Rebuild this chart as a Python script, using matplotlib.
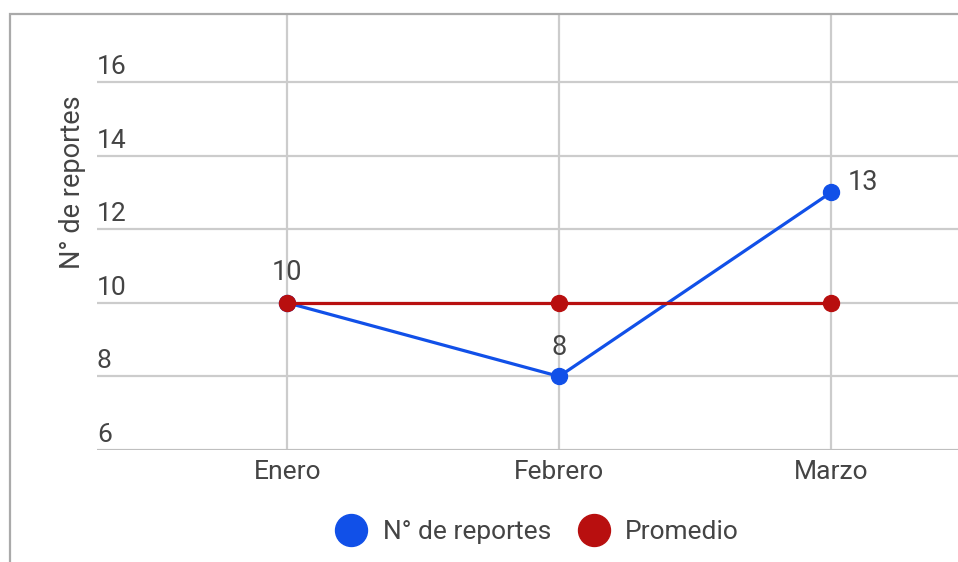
import matplotlib.pyplot as plt
from matplotlib.lines import Line2D
from matplotlib.patches import Rectangle

plt.rcParams["font.family"] = ["Roboto", "DejaVu Sans"]

# data
meses = ["Enero", "Febrero", "Marzo"]
reportes = [10, 8, 13]
promedio = [10, 10, 10]
y_ticks = [6, 8, 10, 12, 14, 16]

blue = "#1150e8"
red = "#b80f0f"
txt = "#444444"

W, H = 958, 562
fig = plt.figure(figsize=(W / 100, H / 100), dpi=100)
ax = fig.add_axes([97 / W, (H - 450) / H, (W - 97) / W, (450 - 14) / H])

x = list(range(len(meses)))
ax.set_xlim(-0.7, 2.467)
ax.set_ylim(6, 17.85)

# grid
for t in y_ticks:
    ax.axhline(t, color="#cccccc", lw=1.6, zorder=1)
    ax.text(0, t + 0.08, str(t), transform=ax.get_yaxis_transform(), ha="left", va="bottom",
            fontsize=19, color=txt)
for xi in x:
    ax.axvline(xi, color="#cccccc", lw=1.6, zorder=1)
ax.axhline(6, color="#bbbbbb", lw=1.8, zorder=1)

ax.plot(x, reportes, color=blue, lw=2.3, marker="o", ms=11.5, zorder=3)
ax.plot(x, promedio, color=red, lw=2.3, marker="o", ms=11.5, zorder=4)

# data labels
offsets = [(0, 22), (0, 21), (12, 7)]
aligns = ["center", "center", "left"]
for xi, v, off, ha in zip(x, reportes, offsets, aligns):
    ax.annotate(str(v), (xi, v), xytext=off, textcoords="offset points",
                ha=ha, va="center", fontsize=19.5, color=txt, zorder=5)

ax.set_xticks(x)
ax.set_xticklabels(meses, fontsize=19, color=txt)
ax.tick_params(axis="x", length=0, pad=7)
ax.set_yticks([])
for s in ax.spines.values():
    s.set_visible(False)

fig.text(72 / W, 1 - 182 / H, "N° de reportes", rotation=90, ha="center", va="center",
         fontsize=19.5, color=txt)

handles = [
    Line2D([], [], ls="none", marker="o", ms=23, color=blue),
    Line2D([], [], ls="none", marker="o", ms=23, color=red),
]
fig.legend(handles, ["N° de reportes", "Promedio"], loc="center",
           bbox_to_anchor=(536 / W, 1 - 532 / H), ncol=2, frameon=False,
           fontsize=19, handletextpad=0.5, columnspacing=0.9, labelcolor=txt,
           handlelength=1.4)

# outer frame of the screenshot
fig.patches.append(Rectangle((10 / W, -0.1), 1.2, 1.1 - 14 / H, transform=fig.transFigure,
                             fill=False, ec="#aaaaaa", lw=1.6))

fig.savefig("out.png", dpi=100)
